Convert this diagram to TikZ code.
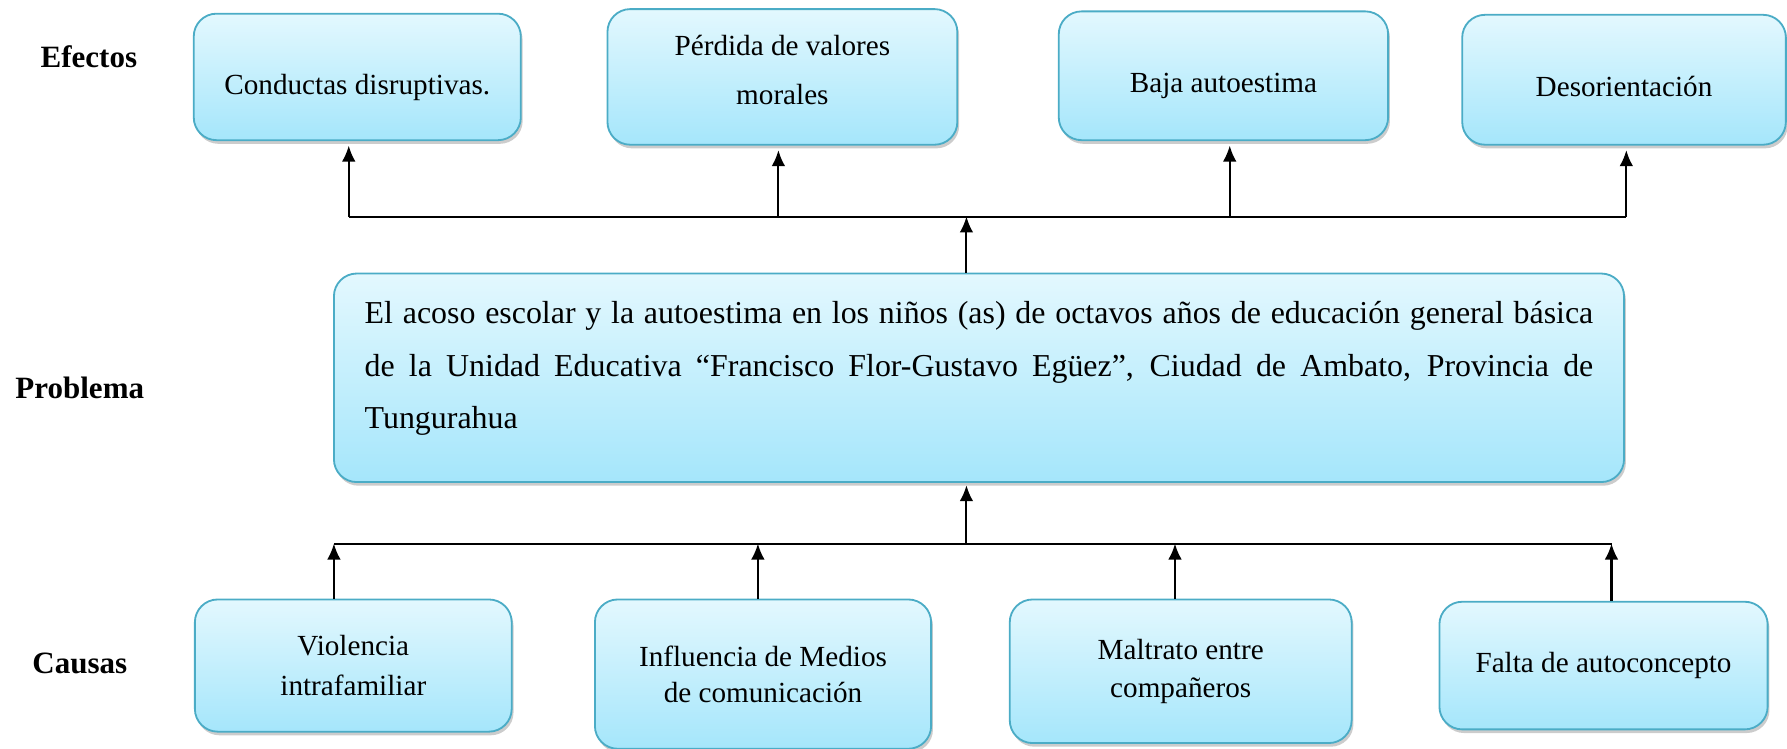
\documentclass[tikz,border=0pt]{standalone}
\usepackage{fontspec}
\setmainfont{Liberation Serif}
\usetikzlibrary{positioning,arrows.meta,shadows}
\definecolor{borde}{HTML}{4BACC6}
\definecolor{claro}{HTML}{E3F8FE}
\definecolor{celeste}{HTML}{A5E6FB}
\newcommand{\bajar}[2]{\raisebox{-#1}[\height][\depth]{#2}}

\begin{document}
\begin{tikzpicture}[x=0.5pt,y=-0.5pt,>={Latex[length=7pt,width=6pt]},
		caja/.style={draw=borde,line width=0.8pt,rounded corners=10pt,
			top color=claro,bottom color=celeste,
			drop shadow={shadow xshift=0.8pt,shadow yshift=-1.6pt,opacity=0.4},
			align=center,font=\fontsize{12.8}{17.5}\selectfont},
		titulo/.style={font=\fontsize{13.6}{16}\selectfont\bfseries},
		flecha/.style={line width=0.9pt}]
		\useasboundingbox (0,0) rectangle (1568,657);
		\node[titulo] (efectos) at (78,50) {Efectos};
		\node[titulo] (problema) at (70,340) {Problema};
		\node[titulo] (causas) at (70,582) {Causas};
		% efectos
		\node[caja,minimum width=143.5pt,minimum height=55.5pt] (e1) at (313.5,67.5) {\bajar{4.5pt}{Conductas disruptivas.}};
		\node[caja,minimum width=153.5pt,minimum height=59.5pt,font=\fontsize{12.8}{21.5}\selectfont] (e2) at (686.5,67.5) {\bajar{-3pt}{Pérdida de valores}\\\bajar{-3pt}{morales}};
		\node[caja,minimum width=144.5pt,minimum height=56.5pt] (e3) at (1073.5,66.5) {\bajar{4.5pt}{Baja autoestima}};
		\node[caja,minimum width=142pt,minimum height=57pt] (e4) at (1425,70) {\bajar{3pt}{Desorientación}};
		% problema
		\node[caja,minimum width=566pt,minimum height=91.5pt,text width=539pt,align=justify,
			font=\fontsize{14}{23}\selectfont,text depth=57pt] (p) at (859,331.5)
			{El acoso escolar y la autoestima en los niños (as) de octavos años de educación general básica\linebreak
			de la Unidad Educativa “Francisco Flor-Gustavo Egüez”, Ciudad de Ambato, Provincia de\linebreak
			Tungurahua};
		% causas
		\node[caja,minimum width=139pt,minimum height=58pt] (c1) at (310,584) {Violencia\\intrafamiliar};
		\node[caja,minimum width=147.5pt,minimum height=65.5pt,font=\fontsize{12.8}{16}\selectfont] (c2) at (669.5,591.5) {Influencia de Medios\\de comunicación};
		\node[caja,minimum width=150pt,minimum height=63pt,font=\fontsize{12.8}{16.5}\selectfont] (c3) at (1036,589) {Maltrato entre\\compañeros};
		\node[caja,minimum width=144pt,minimum height=56pt] (c4) at (1407,584) {Falta de autoconcepto};
		% conectores
		\coordinate (arriba) at (848,190);
		\coordinate (abajo) at (848,477);
		\coordinate (a1) at (306,190);
		\coordinate (a2) at (683,190);
		\coordinate (a3) at (1079,190);
		\coordinate (a4) at (1427,190);
		\coordinate (b1) at (293,477);
		\coordinate (b2) at (665,477);
		\coordinate (b3) at (1031,477);
		\coordinate (b4) at (1414,477);
		\draw[flecha] (a1) -- (a4);
		\draw[flecha] (b1) -- (b4);
		\foreach \i in {1,...,4}{
			\draw[flecha,->,shorten >=2pt] (a\i) -- (a\i |- e\i.south);
			\draw[flecha,->] (b\i |- c\i.north) -- (b\i);
		}
		\draw[flecha,->] (arriba |- p.north) -- (arriba);
		\draw[flecha,->,shorten >=1pt] (abajo) -- (abajo |- p.south);
	\end{tikzpicture}
\end{document}
